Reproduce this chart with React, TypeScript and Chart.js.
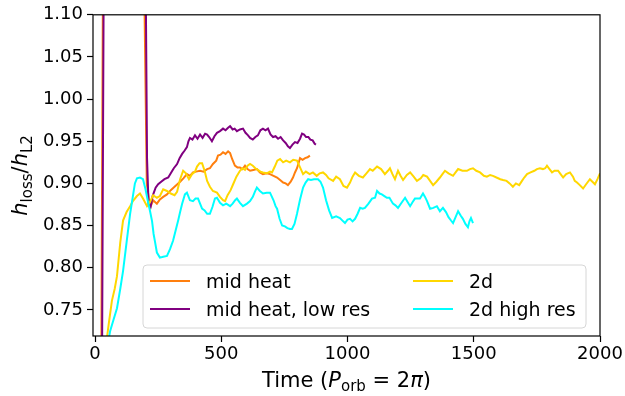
import React, { useEffect, useRef } from "react";
import { Chart, registerables } from "chart.js";

Chart.register(...registerables);

// ---- data ----
const xTicks = [0, 500, 1000, 1500, 2000];
const yTicks = [0.75, 0.8, 0.85, 0.9, 0.95, 1.0, 1.05, 1.1];

const midHeat: [number, number][] = [
  [25, 0.70], [33, 1.25], [190, 1.25], [205, 0.90], [218, 0.871], [230, 0.880], [245, 0.876], [257, 0.881],
  [270, 0.884], [285, 0.887], [300, 0.892], [315, 0.896], [337, 0.902], [350, 0.906], [364, 0.911], [376, 0.909],
  [388, 0.913], [400, 0.914], [416, 0.915], [430, 0.914], [444, 0.917], [455, 0.918], [467, 0.923], [480, 0.927],
  [487, 0.933], [497, 0.934], [507, 0.937], [517, 0.935], [527, 0.938], [535, 0.936], [543, 0.929], [554, 0.921],
  [564, 0.919], [574, 0.919], [584, 0.917], [594, 0.921], [604, 0.917], [614, 0.915], [627, 0.916], [641, 0.917],
  [653, 0.913], [665, 0.911], [680, 0.912], [693, 0.911], [707, 0.909], [721, 0.907], [733, 0.904], [745, 0.901],
  [755, 0.900], [764, 0.898], [775, 0.902], [784, 0.907], [792, 0.913], [800, 0.918], [806, 0.924], [812, 0.930],
  [822, 0.928], [832, 0.930], [842, 0.931], [851, 0.933],
];

const midHeatLowRes: [number, number][] = [
  [28, 0.70], [36, 1.25], [198, 1.25], [206, 0.93], [212, 0.875], [220, 0.872], [228, 0.885], [240, 0.895],
  [250, 0.899], [262, 0.902], [275, 0.905], [290, 0.907], [300, 0.912], [312, 0.918], [325, 0.923], [335, 0.930],
  [345, 0.935], [355, 0.939], [364, 0.943], [370, 0.950], [376, 0.954], [386, 0.952], [396, 0.957], [406, 0.953],
  [416, 0.958], [426, 0.954], [436, 0.959], [444, 0.958], [452, 0.955], [463, 0.950], [473, 0.956], [483, 0.960],
  [495, 0.962], [507, 0.965], [517, 0.963], [527, 0.966], [535, 0.968], [545, 0.964], [553, 0.965], [562, 0.962],
  [574, 0.964], [586, 0.965], [596, 0.960], [606, 0.957], [614, 0.954], [625, 0.952], [635, 0.955], [645, 0.957],
  [655, 0.963], [665, 0.965], [675, 0.963], [685, 0.965], [695, 0.958], [705, 0.955], [715, 0.956], [725, 0.953],
  [735, 0.955], [745, 0.951], [755, 0.948], [764, 0.944], [772, 0.942], [782, 0.946], [792, 0.949], [802, 0.948],
  [812, 0.953], [820, 0.959], [828, 0.958], [836, 0.955], [845, 0.955], [853, 0.952], [862, 0.951], [870, 0.947],
  [875, 0.946],
];

const twoD: [number, number][] = [
  [40, 0.70], [55, 0.735], [67, 0.761], [78, 0.775], [87, 0.790], [100, 0.830], [111, 0.856], [125, 0.866],
  [139, 0.873], [150, 0.879], [166, 0.885], [178, 0.888], [190, 0.882], [206, 0.873], [218, 0.878], [230, 0.886],
  [245, 0.883], [257, 0.885], [270, 0.893], [285, 0.891], [300, 0.888], [315, 0.886], [325, 0.890], [337, 0.905],
  [349, 0.915], [360, 0.912], [372, 0.905], [384, 0.911], [396, 0.914], [404, 0.920], [414, 0.924], [424, 0.924],
  [434, 0.915], [444, 0.903], [455, 0.896], [467, 0.891], [483, 0.889], [495, 0.884], [507, 0.880], [515, 0.879],
  [525, 0.886], [537, 0.892], [547, 0.899], [560, 0.908], [574, 0.915], [584, 0.918], [594, 0.916], [604, 0.921],
  [614, 0.923], [625, 0.921], [635, 0.918], [645, 0.916], [655, 0.914], [665, 0.913], [680, 0.912], [693, 0.914],
  [701, 0.913], [712, 0.920], [722, 0.927], [733, 0.929], [745, 0.925], [757, 0.927], [772, 0.925], [785, 0.928],
  [800, 0.927], [812, 0.919], [824, 0.911], [835, 0.914], [850, 0.911], [863, 0.913], [878, 0.909], [890, 0.912],
  [903, 0.913], [915, 0.910], [925, 0.906], [943, 0.903], [955, 0.908], [970, 0.905], [984, 0.897], [998, 0.895],
  [1010, 0.901], [1020, 0.908], [1030, 0.913], [1045, 0.909], [1061, 0.907], [1075, 0.912], [1089, 0.917], [1100, 0.915],
  [1117, 0.920], [1133, 0.917], [1148, 0.911], [1160, 0.915], [1168, 0.918], [1178, 0.911], [1188, 0.905], [1200, 0.915],
  [1210, 0.909], [1220, 0.904], [1235, 0.910], [1248, 0.913], [1262, 0.908], [1275, 0.903], [1290, 0.906], [1300, 0.910],
  [1315, 0.908], [1327, 0.903], [1339, 0.898], [1352, 0.902], [1366, 0.907], [1376, 0.911], [1386, 0.915], [1400, 0.912],
  [1418, 0.909], [1428, 0.913], [1438, 0.917], [1455, 0.915], [1473, 0.915], [1485, 0.917], [1497, 0.918], [1510, 0.915],
  [1525, 0.913], [1540, 0.909], [1552, 0.908], [1565, 0.910], [1576, 0.909], [1590, 0.907], [1605, 0.905], [1616, 0.904],
  [1630, 0.903], [1642, 0.900], [1655, 0.896], [1667, 0.900], [1680, 0.898], [1691, 0.903], [1700, 0.907], [1711, 0.911],
  [1725, 0.913], [1740, 0.915], [1750, 0.917], [1762, 0.918], [1774, 0.917], [1783, 0.918], [1790, 0.921], [1800, 0.917],
  [1810, 0.913], [1820, 0.915], [1834, 0.915], [1844, 0.911], [1854, 0.907], [1866, 0.911], [1881, 0.913], [1893, 0.908],
  [1900, 0.903], [1909, 0.901], [1920, 0.898], [1933, 0.894], [1945, 0.899], [1960, 0.905], [1970, 0.902], [1980, 0.899],
  [1990, 0.905], [2000, 0.912],
];

const twoDHighRes: [number, number][] = [
  [45, 0.70], [60, 0.725], [75, 0.740], [87, 0.752], [100, 0.775], [111, 0.796], [125, 0.830], [139, 0.864],
  [150, 0.885], [158, 0.900], [166, 0.906], [178, 0.907], [190, 0.905], [200, 0.893], [210, 0.878], [218, 0.867],
  [226, 0.855], [232, 0.840], [238, 0.830], [245, 0.818], [257, 0.812], [270, 0.813], [285, 0.814], [297, 0.822],
  [309, 0.832], [320, 0.845], [330, 0.857], [337, 0.866], [345, 0.876], [356, 0.887], [364, 0.889], [376, 0.880],
  [388, 0.879], [398, 0.882], [408, 0.882], [416, 0.876], [424, 0.870], [434, 0.868], [444, 0.864], [455, 0.864],
  [465, 0.872], [475, 0.882], [483, 0.883], [495, 0.877], [507, 0.874], [520, 0.876], [535, 0.873], [545, 0.876],
  [555, 0.880], [562, 0.882], [574, 0.877], [586, 0.873], [602, 0.876], [614, 0.879], [625, 0.884], [633, 0.890],
  [641, 0.895], [653, 0.891], [665, 0.888], [680, 0.889], [693, 0.889], [707, 0.880], [715, 0.873], [721, 0.870],
  [731, 0.858], [741, 0.850], [752, 0.849], [762, 0.847], [772, 0.846], [780, 0.846], [790, 0.852], [800, 0.864],
  [812, 0.881], [824, 0.895], [834, 0.901], [844, 0.905], [855, 0.904], [867, 0.905], [883, 0.905], [893, 0.902],
  [903, 0.895], [915, 0.880], [927, 0.868], [939, 0.859], [955, 0.861], [970, 0.859], [983, 0.855], [990, 0.853],
  [1000, 0.857], [1010, 0.858], [1020, 0.855], [1030, 0.858], [1040, 0.864], [1050, 0.871], [1060, 0.870], [1069, 0.871],
  [1083, 0.876], [1097, 0.882], [1109, 0.883], [1117, 0.891], [1127, 0.888], [1136, 0.887], [1146, 0.885], [1156, 0.883],
  [1166, 0.883], [1180, 0.876], [1190, 0.874], [1200, 0.871], [1214, 0.877], [1228, 0.883], [1238, 0.878], [1248, 0.873],
  [1258, 0.878], [1267, 0.882], [1277, 0.882], [1287, 0.882], [1299, 0.888], [1307, 0.884], [1315, 0.879], [1327, 0.870],
  [1340, 0.871], [1354, 0.873], [1366, 0.867], [1378, 0.871], [1390, 0.866], [1400, 0.860], [1410, 0.856], [1418, 0.853],
  [1428, 0.860], [1438, 0.867], [1448, 0.862], [1457, 0.858], [1467, 0.852], [1477, 0.848], [1483, 0.855], [1489, 0.859],
  [1497, 0.853],
];

const seriesLabels = ["mid heat", "mid heat, low res", "2d", "2d high res"];
const seriesColors = ["#ff7f0e", "#800080", "#ffd700", "#00ffff"];
const seriesData = [midHeat, midHeatLowRes, twoD, twoDHighRes];

const FONT = "'DejaVu Sans', 'Liberation Sans', sans-serif";

type Part = { text: string; font: string; dy: number };

function drawRich(ctx: CanvasRenderingContext2D, parts: Part[], cx: number, y: number) {
  let total = 0;
  const widths = parts.map((p) => {
    ctx.font = p.font;
    const w = ctx.measureText(p.text).width;
    total += w;
    return w;
  });
  let x = cx - total / 2;
  ctx.textAlign = "left";
  ctx.textBaseline = "alphabetic";
  parts.forEach((p, i) => {
    ctx.font = p.font;
    ctx.fillText(p.text, x, y + p.dy);
    x += widths[i];
  });
}

const decorPlugin = {
  id: "decor",
  afterDraw(chart: any) {
    const ctx: CanvasRenderingContext2D = chart.ctx;
    const a = chart.chartArea;
    ctx.save();
    // frame
    ctx.strokeStyle = "#000";
    ctx.lineWidth = 1.2;
    ctx.strokeRect(a.left, a.top, a.right - a.left, a.bottom - a.top);

    // legend
    const lx = 143, ly = 265, lw = 443, lh = 63, r = 4;
    ctx.beginPath();
    ctx.moveTo(lx + r, ly);
    ctx.arcTo(lx + lw, ly, lx + lw, ly + lh, r);
    ctx.arcTo(lx + lw, ly + lh, lx, ly + lh, r);
    ctx.arcTo(lx, ly + lh, lx, ly, r);
    ctx.arcTo(lx, ly, lx + lw, ly, r);
    ctx.closePath();
    ctx.fillStyle = "rgba(255,255,255,0.8)";
    ctx.fill();
    ctx.strokeStyle = "#d6d6d6";
    ctx.lineWidth = 1;
    ctx.stroke();

    const cols = [150, 413];
    const rows = [281, 309];
    const baselines = [288, 316];
    ctx.font = "19px " + FONT;
    ctx.textAlign = "left";
    ctx.textBaseline = "alphabetic";
    for (let i = 0; i < 4; i++) {
      const c = Math.floor(i / 2);
      const rr = i % 2;
      ctx.strokeStyle = seriesColors[i];
      ctx.lineWidth = 2;
      ctx.beginPath();
      ctx.moveTo(cols[c], rows[rr]);
      ctx.lineTo(cols[c] + 40, rows[rr]);
      ctx.stroke();
      ctx.fillStyle = "#000";
      ctx.fillText(seriesLabels[i], cols[c] + 56, baselines[rr]);
    }

    // x title
    ctx.fillStyle = "#000";
    const reg = "21px " + FONT;
    const ita = "italic 21px " + FONT;
    const sub = "15px " + FONT;
    drawRich(
      ctx,
      [
        { text: "Time (", font: reg, dy: 0 },
        { text: "P", font: ita, dy: 0 },
        { text: "orb", font: sub, dy: 4 },
        { text: " = 2", font: reg, dy: 0 },
        { text: "π", font: ita, dy: 0 },
        { text: ")", font: reg, dy: 0 },
      ],
      (a.left + a.right) / 2,
      387
    );

    // y title
    ctx.save();
    ctx.translate(27, (a.top + a.bottom) / 2);
    ctx.rotate(-Math.PI / 2);
    drawRich(
      ctx,
      [
        { text: "h", font: ita, dy: 0 },
        { text: "loss", font: sub, dy: 5 },
        { text: "/", font: reg, dy: 0 },
        { text: "h", font: ita, dy: 0 },
        { text: "L2", font: sub, dy: 5 },
      ],
      0,
      0
    );
    ctx.restore();
    ctx.restore();
  },
};

export default function App() {
  const canvasRef = useRef<HTMLCanvasElement | null>(null);

  useEffect(() => {
    if (!canvasRef.current) return;
    const order = [3, 2, 1, 0];
    const chart = new Chart(canvasRef.current, {
      type: "line",
      data: {
        datasets: seriesData.map((s, i) => ({
          label: seriesLabels[i],
          data: s.map(([x, y]) => ({ x, y })),
          borderColor: seriesColors[i],
          backgroundColor: seriesColors[i],
          borderWidth: 2,
          pointRadius: 0,
          tension: 0,
          fill: false,
          order: order[i],
        })),
      },
      options: {
        animation: false,
        responsive: false,
        maintainAspectRatio: false,
        layout: { padding: { left: 0, top: 14, right: 25, bottom: 0 } },
        plugins: { legend: { display: false }, tooltip: { enabled: false } },
        scales: {
          x: {
            type: "linear",
            min: -8,
            max: 2000,
            afterBuildTicks: (scale: any) => {
              scale.ticks = xTicks.map((v) => ({ value: v }));
            },
            afterFit: (scale: any) => {
              scale.height = 60;
            },
            grid: { drawOnChartArea: false, drawTicks: true, tickLength: 6, tickColor: "#000", tickWidth: 1.2 },
            border: { display: false },
            ticks: {
              color: "#000",
              font: { family: FONT, size: 18 },
              padding: 2,
              maxRotation: 0,
              callback: (v: any) => String(v),
            },
          },
          y: {
            type: "linear",
            min: 0.719,
            max: 1.1,
            afterBuildTicks: (scale: any) => {
              scale.ticks = yTicks.map((v) => ({ value: v }));
            },
            afterFit: (scale: any) => {
              scale.width = 93;
            },
            grid: { drawOnChartArea: false, drawTicks: true, tickLength: 6, tickColor: "#000", tickWidth: 1.2 },
            border: { display: false },
            ticks: {
              color: "#000",
              font: { family: FONT, size: 18 },
              padding: 4,
              callback: (v: any) => Number(v).toFixed(2),
            },
          },
        },
      },
      plugins: [decorPlugin],
    });
    return () => chart.destroy();
  }, []);

  return (
    <div style={{ position: "absolute", left: 0, top: 0, width: 625, height: 396, background: "#fff" }}>
      <canvas ref={canvasRef} width={625} height={396} style={{ display: "block" }} />
    </div>
  );
}
